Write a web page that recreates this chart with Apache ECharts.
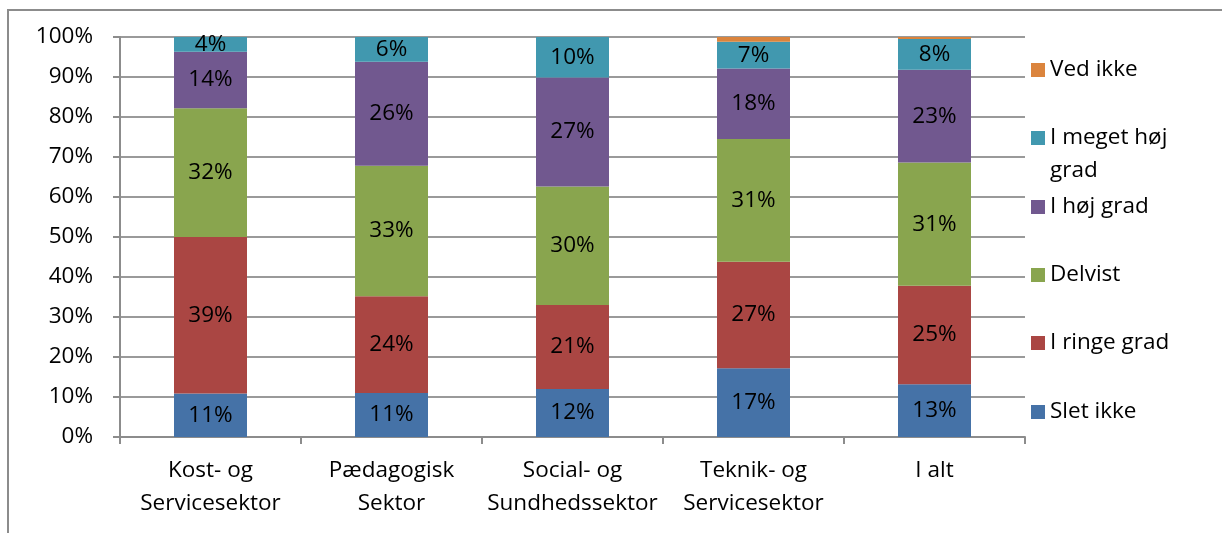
<!DOCTYPE html>
<html>
<head>
<meta charset="utf-8">
<script src="https://cdn.jsdelivr.net/npm/echarts@6/dist/echarts.min.js"></script>
<style>
  html, body { margin: 0; padding: 0; background: #fff; }
  #chart { width: 1222px; height: 533px; }
</style>
</head>
<body>
<div id="chart"></div>
<script>
// Sectors along the x axis
const categories = ['Kost- og\nServicesektor', 'Pædagogisk\nSektor', 'Social- og\nSundhedssektor', 'Teknik- og\nServicesektor', 'I alt'];

// Share of answers per sector (percent)
const sletIkke     = [10.9, 11.0, 12.0, 17.2, 13.2];
const iRingeGrad   = [39.1, 24.2, 21.0, 26.6, 24.6];
const delvist      = [32.2, 32.6, 29.6, 30.7, 30.8];
const iHoejGrad    = [14.1, 26.0, 27.3, 17.6, 23.2];
const iMegetHoej   = [3.7, 6.2, 10.1, 6.7, 7.7];
const vedIkke      = [0, 0, 0, 1.2, 0.5];

const yTicks = ['0%', '10%', '20%', '30%', '40%', '50%', '60%', '70%', '80%', '90%', '100%'];

const seriesDefs = [
  { name: 'Slet ikke',        data: sletIkke,   color: '#4572A7' },
  { name: 'I ringe grad',     data: iRingeGrad, color: '#AA4643' },
  { name: 'Delvist',          data: delvist,    color: '#89A54E' },
  { name: 'I høj grad',       data: iHoejGrad,  color: '#71588F' },
  { name: 'I meget høj grad', data: iMegetHoej, color: '#4198AF' },
  { name: 'Ved ikke',         data: vedIkke,    color: '#DB843D' }
];

const FONT = '"Open Sans", "Noto Sans", sans-serif';
const FS = 22.5;
const chart = echarts.init(document.getElementById('chart'), null, { renderer: 'canvas' });

// Legend entries, top to bottom, each with the y of its swatch centre
const legendOrder = [
  { name: 'Ved ikke', top: 70 },
  { name: 'I meget høj grad', top: 138 },
  { name: 'I høj grad', top: 207 },
  { name: 'Delvist', top: 275 },
  { name: 'I ringe grad', top: 343 },
  { name: 'Slet ikke', top: 412 }
];

const legends = legendOrder.map(l => {
  const multi = l.name === 'I meget høj grad';
  return {
    data: [l.name],
    left: 1031,
    // a legend is placed by its box top; shift so the swatch centre lands on the target y
    top: l.top - (multi ? 49.5 : 16.5),
    orient: 'vertical',
    itemWidth: 14,
    itemHeight: 14,
    itemGap: 0,
    padding: 0,
    icon: 'rect',
    selectedMode: false,
    textStyle: { fontFamily: FONT, fontSize: FS, color: '#000', lineHeight: 33 },
    formatter: name => multi ? '\nI meget høj\ngrad' : name
  };
});

chart.setOption({
  animation: false,
  backgroundColor: '#fff',
  grid: { left: 120, top: 37, width: 905, height: 400, containLabel: false },
  legend: legends,
  xAxis: {
    type: 'category',
    data: categories,
    axisLine: { show: true, lineStyle: { color: '#8c8c8c', width: 2 } },
    axisTick: { show: true, length: 7, alignWithLabel: false, lineStyle: { color: '#8c8c8c', width: 2 } },
    axisLabel: { fontFamily: FONT, fontSize: FS, color: '#000', lineHeight: 33, margin: 17, interval: 0 },
    splitLine: { show: false }
  },
  yAxis: {
    type: 'value',
    min: 0,
    max: 100,
    interval: 10,
    axisLine: { show: true, lineStyle: { color: '#8c8c8c', width: 2 } },
    axisTick: { show: true, inside: false, length: 7, lineStyle: { color: '#8c8c8c', width: 2 } },
    axisLabel: {
      fontFamily: FONT, fontSize: FS, color: '#000', margin: 27,
      formatter: v => yTicks[Math.round(v / 10)]
    },
    splitLine: { show: true, lineStyle: { color: '#9a9a9a', width: 2 } }
  },
  series: seriesDefs.map(s => ({
    name: s.name,
    type: 'bar',
    stack: 'total',
    barWidth: 73,
    data: s.data,
    itemStyle: { color: s.color },
    label: {
      show: true,
      position: 'inside',
      fontFamily: FONT,
      fontSize: FS,
      color: '#000',
      formatter: p => p.value >= 2 ? Math.round(p.value) + '%' : ''
    },
    labelLayout: { hideOverlap: false }
  })),
  graphic: [{
    type: 'rect',
    silent: true,
    shape: { x: 8, y: 10, width: 1260, height: 580 },
    style: { fill: 'none', stroke: '#8c8c8c', lineWidth: 2 },
    z: -1
  }]
});
</script>
</body>
</html>
